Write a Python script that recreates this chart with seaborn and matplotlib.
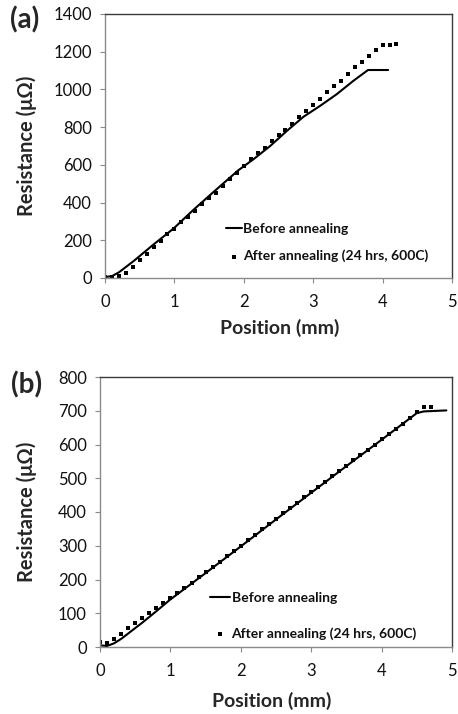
import matplotlib
matplotlib.use("Agg")
import matplotlib.pyplot as plt
import numpy as np
import pandas as pd
import seaborn as sns

# ---------------- data ----------------
# Panel (a)
a_before_x = [0, 0.1, 0.2, 0.41, 0.70, 0.99, 1.27, 1.56, 1.92, 2.14, 2.38, 2.62, 2.86, 3.10, 3.34, 3.58, 3.79, 4.08]
a_before_y = [5, 10, 30, 89, 178, 263, 360, 455, 571, 630, 700, 780, 855, 913, 975, 1046, 1103, 1103]

a_after_x = [0.0, 0.1, 0.2, 0.3, 0.4, 0.5, 0.6, 0.7, 0.8, 0.9, 1.0, 1.1, 1.2, 1.3, 1.4, 1.5, 1.6, 1.7,
             1.8, 1.9, 2.0, 2.1, 2.2, 2.3, 2.4, 2.5, 2.6, 2.7, 2.8, 2.9, 3.0, 3.1, 3.2, 3.3, 3.4, 3.5,
             3.6, 3.7, 3.8, 3.9, 4.0, 4.1, 4.2]
a_after_y = [5, 5, 8, 27, 57, 94, 128, 163, 195, 231, 261, 296, 324, 355, 390, 422, 452, 488,
             526, 556, 594, 633, 661, 691, 727, 757, 786, 819, 855, 887, 919, 950, 984, 1016, 1046, 1082,
             1117, 1147, 1179, 1211, 1238, 1238, 1241]

# Panel (b)
b_before_x = [0, 0.1, 0.2, 0.3, 0.4, 0.5, 0.6, 0.8, 1.0, 1.5, 2.0, 2.5, 3.0, 3.5, 4.0, 4.5, 4.6, 4.92]
b_before_y = [5, 3, 11, 24, 40, 56, 72, 106, 141, 219, 298, 378, 457, 536, 614, 693, 698, 701]

b_after_x = [0.0, 0.1, 0.2, 0.3, 0.4, 0.5, 0.6, 0.7, 0.8, 0.9, 1.0, 1.1, 1.2, 1.3, 1.4, 1.5, 1.6, 1.7,
             1.8, 1.9, 2.0, 2.1, 2.2, 2.3, 2.4, 2.5, 2.6, 2.7, 2.8, 2.9, 3.0, 3.1, 3.2, 3.3, 3.4, 3.5,
             3.6, 3.7, 3.8, 3.9, 4.0, 4.1, 4.2, 4.3, 4.4, 4.5, 4.6, 4.7]
b_after_y = [15, 13, 25, 40, 55, 70, 86, 101, 116, 131, 146, 160, 176, 191, 206, 222, 237, 252,
             269, 285, 300, 317, 333, 349, 364, 380, 396, 412, 427, 443, 459, 474, 490, 506, 521, 537,
             553, 568, 584, 600, 615, 631, 647, 662, 678, 695, 712, 712]

label_before = "Before annealing"
label_after = "After annealing (24 hrs, 600C)"
x_label = "Position (mm)"
y_label = "Resistance (\u03bc\u03a9)"
a_yticks = [0, 200, 400, 600, 800, 1000, 1200, 1400]
b_yticks = [0, 100, 200, 300, 400, 500, 600, 700, 800]
x_ticks = [0, 1, 2, 3, 4, 5]

# ---------------- style ----------------
sns.set_theme(style="white")
plt.rcParams["font.family"] = ["Lato", "DejaVu Sans"]

W, H = 458, 714
fig = plt.figure(figsize=(W / 100, H / 100), dpi=100)


def px_axes(left, right, top, bottom):
    return [left / W, 1 - bottom / H, (right - left) / W, (bottom - top) / H]


ax1 = fig.add_axes(px_axes(105, 452, 14, 278))
ax2 = fig.add_axes(px_axes(100, 452, 377, 647))


def draw(ax, bx, by, ax_x, ax_y, yticks, ymax, leg_anchor, labelspacing, xlab_pos, ylab_pos, handlelength):
    dfb = pd.DataFrame({"x": bx, "y": by})
    dfa = pd.DataFrame({"x": ax_x, "y": ax_y})
    sns.lineplot(data=dfb, x="x", y="y", ax=ax, color="black", linewidth=1.5,
                 label=label_before, sort=False, estimator=None)
    sns.scatterplot(data=dfa, x="x", y="y", ax=ax, color="black", marker="s",
                    s=10, linewidth=0, label=label_after)
    ax.set_xlim(0, 5)
    ax.set_ylim(0, ymax)
    ax.set_xticks(x_ticks)
    ax.set_yticks(yticks)
    ax.set_xticklabels([str(t) for t in x_ticks])
    ax.set_yticklabels([str(t) for t in yticks])
    ax.tick_params(axis="both", direction="out", length=3.6, width=0.8, color="#8a8a8a",
                   labelsize=12, labelcolor="#111111", left=True, bottom=True)
    ax.tick_params(axis="y", pad=6)
    ax.tick_params(axis="x", pad=8)
    for side in ["left", "bottom"]:
        ax.spines[side].set_color("#8a8a8a")
        ax.spines[side].set_linewidth(1.0)
    for side in ["top", "right"]:
        ax.spines[side].set_color("#3a3a3a")
        ax.spines[side].set_linewidth(1.0)
        ax.spines[side].set_visible(True)
    ax.set_xlabel(x_label, fontsize=14, fontweight="bold", va="center", ha="center")
    ax.set_ylabel(y_label, fontsize=14.5, fontweight="bold", va="center", ha="center")
    ax.xaxis.set_label_coords(*xlab_pos)
    ax.yaxis.set_label_coords(*ylab_pos)
    leg = ax.legend(loc="center left", bbox_to_anchor=leg_anchor, frameon=False,
                    handlelength=handlelength, handletextpad=0.1,
                    labelspacing=labelspacing, borderpad=0, borderaxespad=0,
                    prop={"weight": "bold", "size": 10})
    for t in leg.get_texts():
        t.set_color("#111111")


draw(ax1, a_before_x, a_before_y, a_after_x, a_after_y, a_yticks, 1400,
     ((226 - 105) / 347, (278 - 242.5) / 264), 1.1,
     (0.504, (278 - 328) / 264), ((27 - 105) / 347, 0.5), 1.15)
draw(ax2, b_before_x, b_before_y, b_after_x, b_after_y, b_yticks, 800,
     ((210 - 100) / 352, (647 - 616) / 270), 1.7,
     (0.489, (647 - 701) / 270), ((27 - 100) / 352, 0.5), 1.45)

fig.text(25 / W, 1 - 20 / H, "(a)", fontsize=20, fontweight="bold", ha="center", va="center")
fig.text(27 / W, 1 - 385 / H, "(b)", fontsize=20, fontweight="bold", ha="center", va="center")

fig.savefig("out.png", dpi=100)
